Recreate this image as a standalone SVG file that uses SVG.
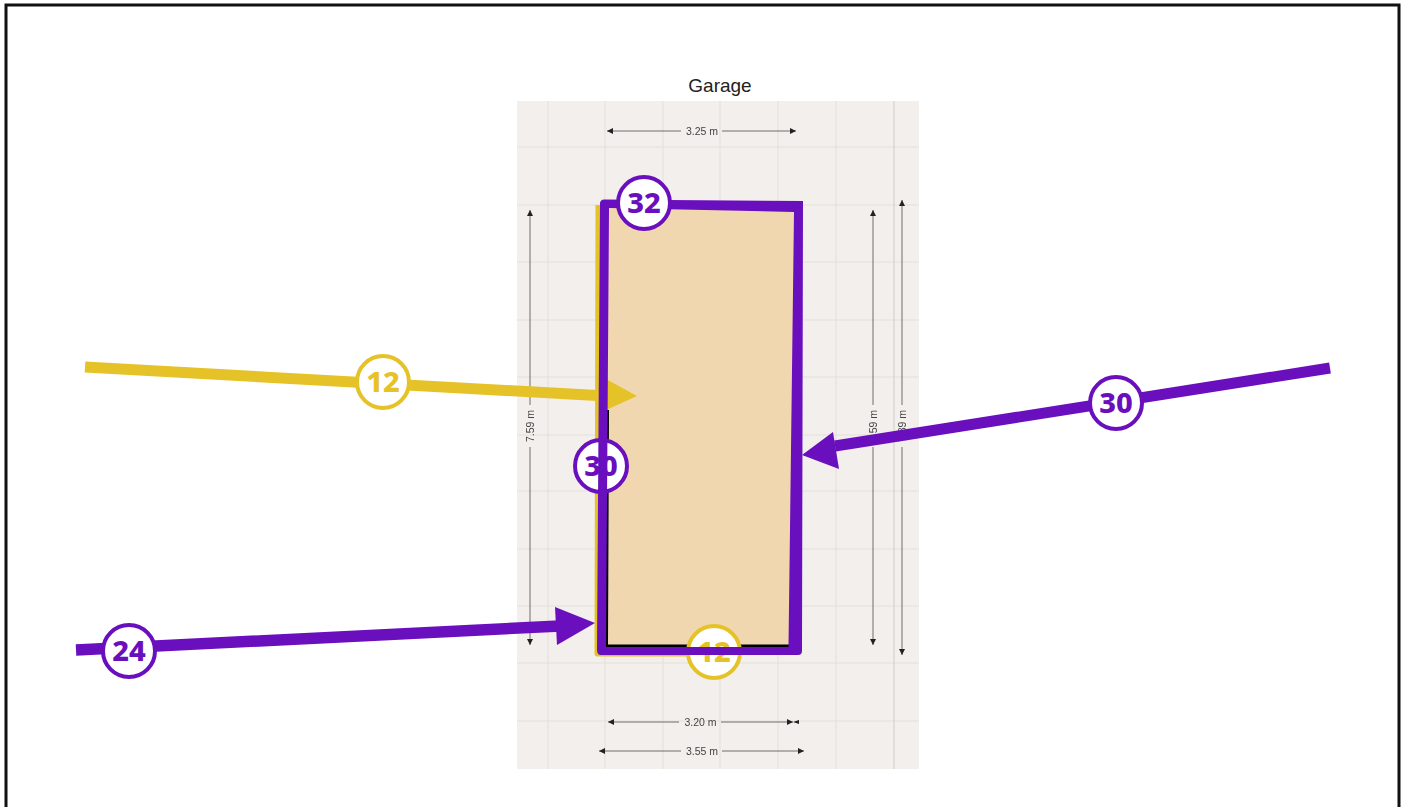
<svg xmlns="http://www.w3.org/2000/svg" width="1405" height="807" viewBox="0 0 1405 807">
<style>
.grid{stroke:#e4e0dc;stroke-width:1;fill:none}
.dim{stroke:#6f6d6b;stroke-width:1;fill:none}
.dt{font-family:"Liberation Sans",Arial,sans-serif;font-size:10.500px;fill:#444;text-anchor:middle}
.b{fill:#fff;stroke-width:4}
.n{font-family:"Noto Sans",sans-serif;font-weight:800;font-size:29px;text-anchor:middle}
.p{stroke:#6a0fbd}
.y{stroke:#e6c229}
.tp{fill:#6a0fbd}
.ty{fill:#e6c229}
</style>
<defs>
<marker id="d" markerWidth="8" markerHeight="6" refX="6" refY="3" orient="auto" markerUnits="userSpaceOnUse"><path d="M0 0L6 3L0 6Z" fill="#222"/></marker>
<filter id="soft" x="-2%" y="-2%" width="104%" height="104%"><feGaussianBlur stdDeviation="0.400"/></filter>
</defs>
<rect id="frame" x="6" y="5" width="1393" height="830" fill="#fff" stroke="#111" stroke-width="3"/>
<text id="title" x="720" y="92" font-family="'Liberation Sans',Arial,sans-serif" font-size="19" fill="#222" text-anchor="middle">Garage</text>
<g id="plan" filter="url(#soft)">
<rect x="517" y="101" width="402" height="668" fill="#f2efec"/>
<path class="grid" d="M548 101V769M605 101V769M663 101V769M720 101V769M778 101V769M836 101V769M517 147H919M517 205H919M517 262H919M517 320H919M517 377H919M517 435H919M517 491H919M517 549H919M517 606H919M517 663H919M517 721H919"/>
<path d="M894 101V769" stroke="#d6d3cf" stroke-width="1.200"/>
<path d="M604 204L798 208L793 646L602 650Z" fill="#f1d7b0"/>
</g>
<g id="dimensions" filter="url(#soft)">
<path class="dim" d="M681 131H607" marker-end="url(#d)"/>
<path class="dim" d="M722 131H796" marker-end="url(#d)"/>
<path class="dim" d="M679 722H608" marker-end="url(#d)"/>
<path class="dim" d="M721 722H793" marker-end="url(#d)"/>
<path d="M799 720L793 722L799 724Z" fill="#222"/>
<path class="dim" d="M681 751H599" marker-end="url(#d)"/>
<path class="dim" d="M722 751H804" marker-end="url(#d)"/>
<path class="dim" d="M530 405V210" marker-end="url(#d)"/>
<path class="dim" d="M530 447V645" marker-end="url(#d)"/>
<path class="dim" d="M873 405V210" marker-end="url(#d)"/>
<path class="dim" d="M873 447V645" marker-end="url(#d)"/>
<path class="dim" d="M902 405V200" marker-end="url(#d)"/>
<path class="dim" d="M902 447V655" marker-end="url(#d)"/>
<text class="dt" x="702" y="135">3.25 m</text>
<text class="dt" x="700.500" y="726">3.20 m</text>
<text class="dt" x="702" y="755">3.55 m</text>
<text class="dt" transform="translate(534 426) rotate(-90)">7.59 m</text>
<text class="dt" transform="translate(877 426) rotate(-90)">7.59 m</text>
<text class="dt" transform="translate(906 426) rotate(-90)">7.89 m</text>
</g>
<g id="walls-under">
<path d="M598 205L597 654H690" fill="none" stroke="#e6c229" stroke-width="5" stroke-linejoin="round"/>
<path d="M607.500 410L606.500 646H794" fill="none" stroke="#000" stroke-width="3"/>
</g>
<g id="node-12-bottom">
<circle class="b y" cx="714" cy="652" r="26"/>
<text class="n ty" x="714" y="662">12</text>
</g>
<g id="node-30-left-disc">
<circle class="b p" cx="601" cy="466" r="26"/>
</g>
<g id="connectors" fill="none">
<path d="M85 367L606 396" class="y" stroke-width="11"/>
<path d="M606 379L637 396L606 410Z" fill="#e6c229"/>
<path d="M600 203Q600.500 199.500 604 199.500L803 201L802 651Q802 655 798 655H601Q597 655 597 650ZM609 208L606 647H788.500L794 212Z" fill="#6a0fbd" fill-rule="evenodd"/>
<path d="M1330 368L835 446" class="p" stroke-width="11"/>
<path d="M802 455L833 432L839 469Z" fill="#6a0fbd"/>
<path d="M76 650L560 626" class="p" stroke-width="11.500"/>
<path d="M595 623L555 607L557 645Z" fill="#6a0fbd"/>
</g>
<g id="node-12-top">
<circle class="b y" cx="383" cy="382" r="26"/>
<text class="n ty" x="383" y="392">12</text>
</g>
<g id="node-30-right">
<circle class="b p" cx="1116" cy="403" r="26"/>
<text class="n tp" x="1116" y="413">30</text>
</g>
<g id="node-30-left">
<text class="n tp" x="601" y="476">30</text>
</g>
<g id="node-32">
<circle class="b p" cx="644" cy="203" r="26"/>
<text class="n tp" x="644" y="213">32</text>
</g>
<g id="node-24">
<circle class="b p" cx="129" cy="651" r="26"/>
<text class="n tp" x="129" y="661">24</text>
</g>
</svg>
